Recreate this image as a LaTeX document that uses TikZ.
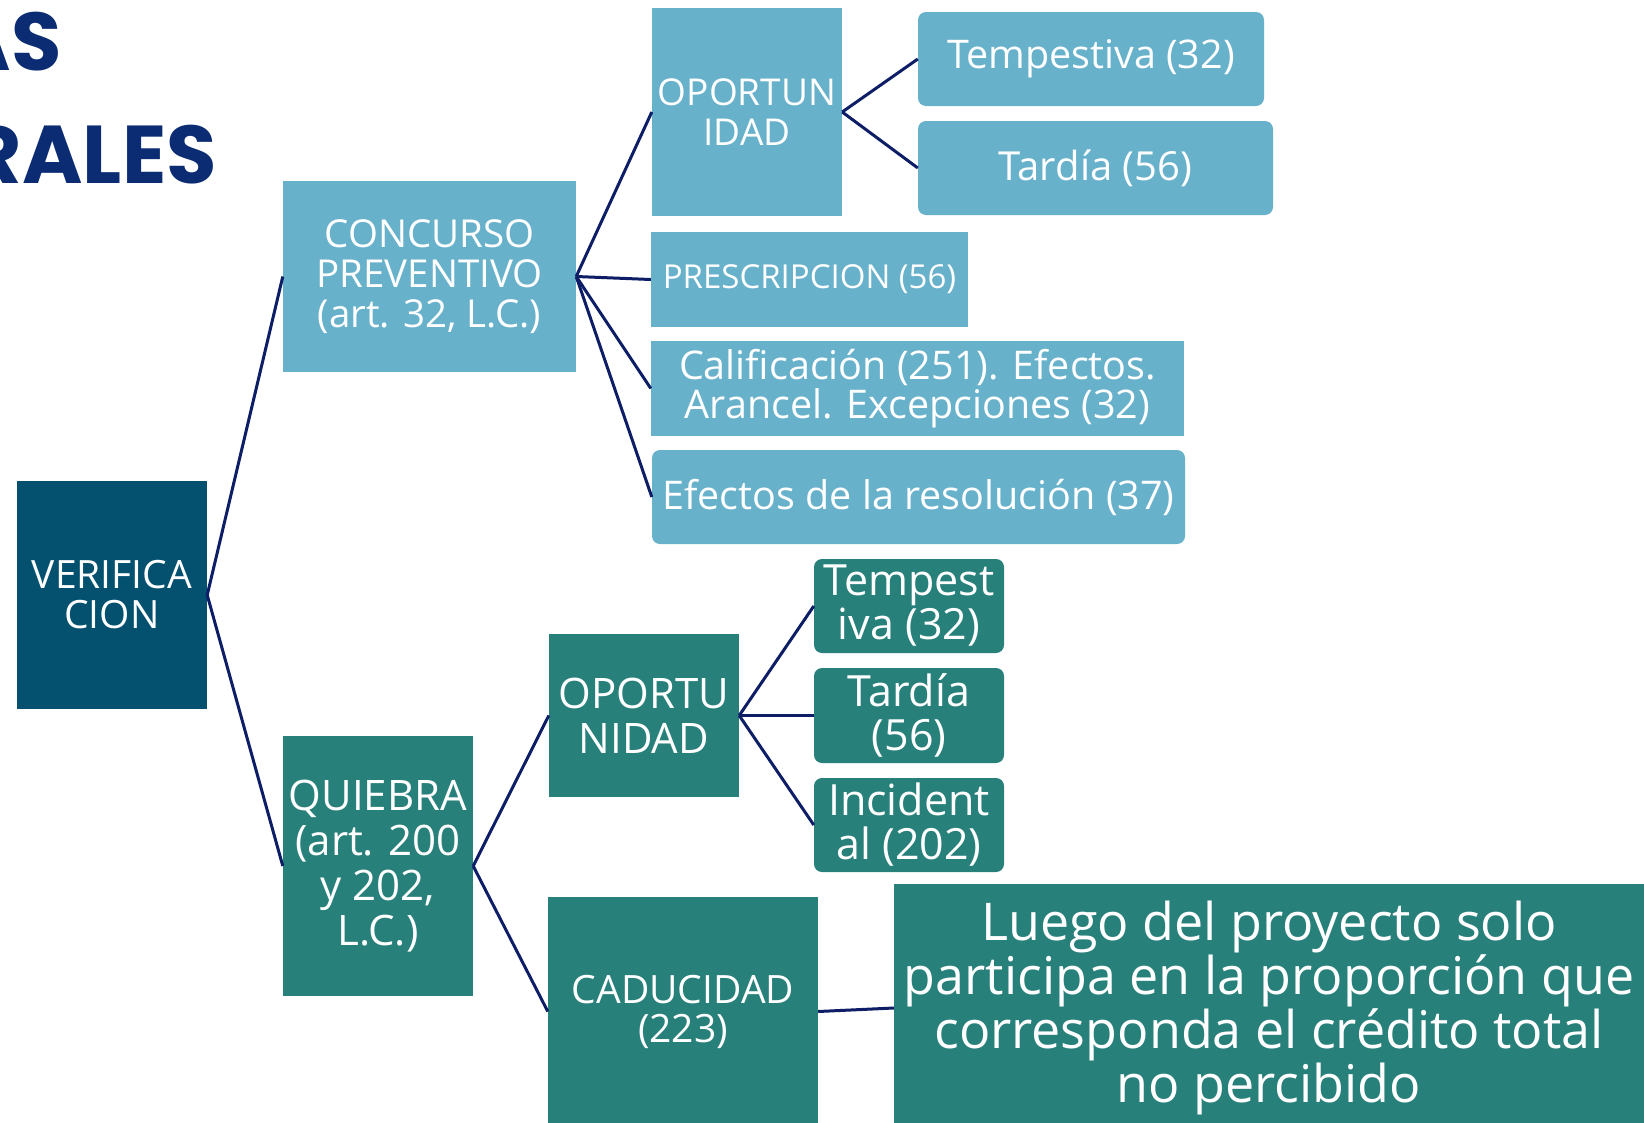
\documentclass[tikz,border=0pt]{standalone}
\usepackage{fontspec}
\setmainfont{Open Sans}
\newfontfamily\titlefont{Poppins}
\definecolor{verifblue}{HTML}{03506F}
\definecolor{skyblue}{HTML}{67B1CB}
\definecolor{tealgreen}{HTML}{28807A}
\definecolor{navyline}{HTML}{0E1E66}
\definecolor{titleblue}{HTML}{0B2B73}
\newcommand\fsz[2]{\fontsize{#1}{#2}\selectfont}
\tikzset{
  base/.style={draw=none, text=white, align=center, inner sep=0pt},
  darkbox/.style={base, fill=verifblue},
  lightbox/.style={base, fill=skyblue},
  lightround/.style={lightbox, rounded corners=8pt},
  tealbox/.style={base, fill=tealgreen},
  tealround/.style={tealbox, rounded corners=8pt},
  link/.style={draw=navyline, line width=3pt},
}
\begin{document}
\begin{tikzpicture}[x=1pt, y=-1pt]
        \useasboundingbox[fill=white] (0,0) rectangle (1644,1122);
        % title, cut at the left edge
        \node[anchor=base east, inner sep=0pt, text=titleblue, font=\titlefont\bfseries\fsz{82}{82}] (titA) at (62,70) {AS};
        \node[anchor=base east, inner sep=0pt, text=titleblue, font=\titlefont\bfseries\fsz{82}{82}] (titB) at (217,183) {RALES};

        % root
        \node[darkbox, minimum width=190pt, minimum height=228pt, font=\fsz{39}{40}] (verif) at (112,595) {VERIFICA\\CION};

        % concurso preventivo
        \node[lightbox, minimum width=293pt, minimum height=191pt, font=\fsz{38.5}{40}] (concurso) at (429.5,276.5) {CONCURSO\\PREVENTIVO\\(art. 32, L.C.)};
        \node[lightbox, minimum width=190pt, minimum height=208pt, font=\fsz{37}{40}] (oportA) at (747,112) {OPORTUN\\IDAD};
        \node[lightround, minimum width=346pt, minimum height=94pt, font=\fsz{39.5}{40}] (tempA) at (1091,59) {Tempestiva (32)};
        \node[lightround, minimum width=355pt, minimum height=94pt, font=\fsz{40}{40}] (tardA) at (1095.5,168) {Tardía (56)};
        \node[lightbox, minimum width=317pt, minimum height=95pt, font=\fsz{33}{36}] (presc) at (809.5,279.5) {PRESCRIPCION (56)};
        \node[lightbox, minimum width=533pt, minimum height=95pt, font=\fsz{39.5}{39}] (calif) at (917.5,388.5) {Calificación (251). Efectos.\\Arancel. Excepciones (32)};
        \node[lightround, minimum width=533pt, minimum height=94pt, font=\fsz{39.5}{40}] (efectos) at (918.5,497) {Efectos de la resolución (37)};

        % quiebra
        \node[tealbox, minimum width=190pt, minimum height=260pt, font=\fsz{42}{45}] (quiebra) at (378,866) {QUIEBRA\\(art. 200\\y 202,\\L.C.)};
        \node[tealbox, minimum width=190pt, minimum height=163pt, font=\fsz{42}{45}] (oportB) at (644,715.5) {OPORTU\\NIDAD};
        \node[tealround, minimum width=190pt, minimum height=94pt, font=\fsz{43}{44}] (tempB) at (909,606) {Tempest\\iva (32)};
        \node[tealround, minimum width=190pt, minimum height=95pt, font=\fsz{43}{44}] (tardB) at (909,715.5) {Tardía\\(56)};
        \node[tealround, minimum width=190pt, minimum height=94pt, font=\fsz{43}{44}] (incid) at (909,825) {Incident\\al (202)};
        \node[tealbox, minimum width=270pt, minimum height=229pt, font=\fsz{39}{39}] (caduc) at (683,1011.5) {CADUCIDAD\\(223)};
        \node[tealbox, minimum width=750pt, minimum height=248pt, font=\fsz{52}{54}] (luego) at (1269,1008) {Luego del proyecto solo\\participa en la proporción que\\corresponda el crédito total\\no percibido};

        \draw[link] (verif.east) -- (concurso.west);
        \draw[link] (verif.east) -- (quiebra.west);

        \draw[link] (concurso.east) -- (oportA.west);
        \draw[link] (concurso.east) -- (presc.west);
        \draw[link] (concurso.east) -- (calif.west);
        \draw[link] (concurso.east) -- (efectos.west);
        \draw[link] (oportA.east) -- (tempA.west);
        \draw[link] (oportA.east) -- (tardA.west);

        \draw[link] (quiebra.east) -- (oportB.west);
        \draw[link] (quiebra.east) -- (caduc.west);
        \draw[link] (oportB.east) -- (tempB.west);
        \draw[link] (oportB.east) -- (tardB.west);
        \draw[link] (oportB.east) -- (incid.west);
        \draw[link] (caduc.east) -- (luego.west);
    \end{tikzpicture}
\end{document}
